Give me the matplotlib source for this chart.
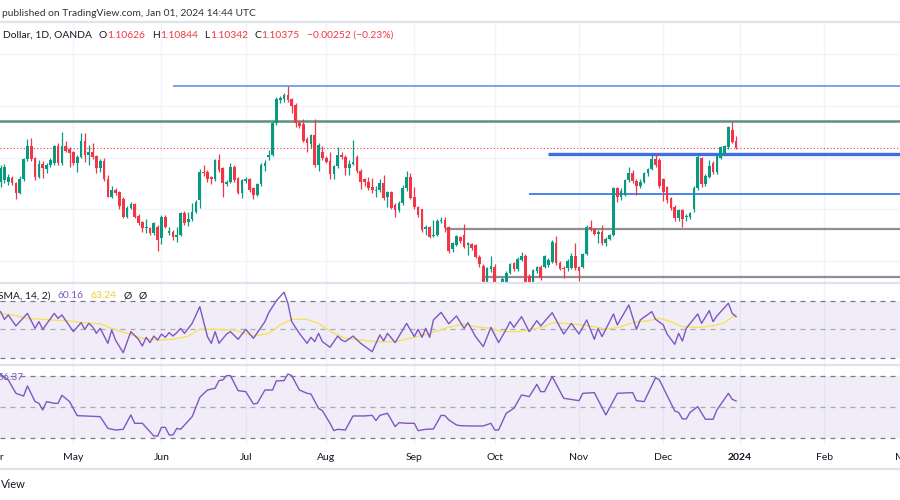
import matplotlib
matplotlib.use("Agg")
import numpy as np
import pandas as pd
import matplotlib.pyplot as plt
from matplotlib.lines import Line2D
from matplotlib.transforms import blended_transform_factory

# daily EUR/USD candles, 2023-04-04 .. 2023-12-29
opens = [
    1.0906, 1.0913, 1.0906, 1.0922, 1.0900, 1.0861, 1.0915, 1.0993, 1.1046, 1.0997,
    1.0926, 1.0975, 1.0954, 1.0971, 1.0977, 1.1046, 1.0977, 1.1046, 1.1033, 1.1020,
    1.0977, 1.1003, 1.1064, 1.1010, 1.1020, 1.1004, 1.0958, 1.0986, 1.0917, 1.0848,
    1.0874, 1.0867, 1.0838, 1.0770, 1.0806, 1.0819, 1.0773, 1.0750, 1.0726, 1.0725,
    1.0709, 1.0731, 1.0686, 1.0768, 1.0706, 1.0712, 1.0693, 1.0699, 1.0786, 1.0751,
    1.0760, 1.0790, 1.0835, 1.0945, 1.0945, 1.0925, 1.0915, 1.0990, 1.0958, 1.0898,
    1.0906, 1.0964, 1.0919, 1.0864, 1.0909, 1.0917, 1.0880, 1.0855, 1.0897, 1.0967,
    1.1001, 1.1010, 1.1133, 1.1223, 1.1226, 1.1243, 1.1226, 1.1204, 1.1133, 1.1129,
    1.1070, 1.1052, 1.1087, 1.0971, 1.1023, 1.1000, 1.0988, 1.0935, 1.0967, 1.1010,
    1.1003, 1.0958, 1.0974, 1.1003, 1.0949, 1.0915, 1.0906, 1.0884, 1.0870, 1.0874,
    1.0900, 1.0845, 1.0867, 1.0816, 1.0796, 1.0822, 1.0880, 1.0926, 1.0845, 1.0809,
    1.0799, 1.0721, 1.0731, 1.0695, 1.0699, 1.0753, 1.0757, 1.0731, 1.0644, 1.0660,
    1.0693, 1.0699, 1.0660, 1.0663, 1.0660, 1.0615, 1.0579, 1.0505, 1.0566, 1.0576,
    1.0475, 1.0470, 1.0505, 1.0553, 1.0589, 1.0566, 1.0602, 1.0619, 1.0541, 1.0505,
    1.0558, 1.0576, 1.0576, 1.0582, 1.0595, 1.0670, 1.0592, 1.0573, 1.0573, 1.0573,
    1.0619, 1.0576, 1.0576, 1.0625, 1.0731, 1.0721, 1.0703, 1.0710, 1.0667, 1.0685,
    1.0700, 1.0880, 1.0848, 1.0855, 1.0912, 1.0940, 1.0910, 1.0888, 1.0905, 1.0940,
    1.0954, 1.0996, 1.0990, 1.0915, 1.0884, 1.0841, 1.0809, 1.0764, 1.0796, 1.0768,
    1.0770, 1.0799, 1.0880, 1.0997, 1.0897, 1.0926, 1.0980, 1.0944, 1.1000, 1.1014,
    1.1042, 1.1107, 1.10626,
]
highs = [
    1.0971, 1.0975, 1.0935, 1.0930, 1.0906, 1.0928, 1.0999, 1.1071, 1.1077, 1.1003,
    1.0990, 1.0985, 1.0980, 1.1000, 1.1050, 1.1055, 1.1098, 1.1064, 1.1040, 1.1025,
    1.1008, 1.1094, 1.1094, 1.1049, 1.1055, 1.1008, 1.0993, 1.0997, 1.0932, 1.0889,
    1.0880, 1.0870, 1.0847, 1.0812, 1.0828, 1.0825, 1.0780, 1.0755, 1.0760, 1.0730,
    1.0750, 1.0740, 1.0775, 1.0775, 1.0730, 1.0720, 1.0731, 1.0790, 1.0792, 1.0790,
    1.0825, 1.0835, 1.0954, 1.0971, 1.0950, 1.0930, 1.0995, 1.1014, 1.0965, 1.0912,
    1.0980, 1.0970, 1.0925, 1.0918, 1.0925, 1.0922, 1.0885, 1.0903, 1.0977, 1.0990,
    1.1029, 1.1140, 1.1235, 1.1239, 1.1249, 1.1276, 1.1230, 1.1210, 1.1140, 1.1148,
    1.1080, 1.1092, 1.1148, 1.1055, 1.1045, 1.1005, 1.1023, 1.0972, 1.1042, 1.1023,
    1.1008, 1.0990, 1.1068, 1.1010, 1.0955, 1.0920, 1.0925, 1.0919, 1.0889, 1.0915,
    1.0932, 1.0872, 1.0872, 1.0822, 1.0830, 1.0893, 1.0948, 1.0939, 1.0887, 1.0812,
    1.0802, 1.0740, 1.0735, 1.0757, 1.0760, 1.0770, 1.0770, 1.0736, 1.0672, 1.0700,
    1.0697, 1.0741, 1.0672, 1.0668, 1.0665, 1.0620, 1.0585, 1.0575, 1.0618, 1.0585,
    1.0482, 1.0535, 1.0560, 1.0592, 1.0595, 1.0612, 1.0635, 1.0625, 1.0548, 1.0568,
    1.0580, 1.0582, 1.0623, 1.0610, 1.0680, 1.0696, 1.0598, 1.0580, 1.0605, 1.0630,
    1.0669, 1.0580, 1.0630, 1.0738, 1.0757, 1.0725, 1.0720, 1.0740, 1.0690, 1.0705,
    1.0887, 1.0887, 1.0880, 1.0917, 1.0965, 1.0950, 1.0915, 1.0915, 1.0945, 1.0960,
    1.1010, 1.1017, 1.1000, 1.0920, 1.0890, 1.0845, 1.0815, 1.0800, 1.0800, 1.0780,
    1.0790, 1.0890, 1.1009, 1.1003, 1.0935, 1.0990, 1.0985, 1.1015, 1.1045, 1.1050,
    1.1123, 1.1139, 1.10844,
]
lows = [
    1.0887, 1.0900, 1.0895, 1.0893, 1.0838, 1.0858, 1.0908, 1.0985, 1.0985, 1.0913,
    1.0920, 1.0919, 1.0939, 1.0965, 1.0970, 1.0970, 1.0970, 1.1020, 1.0964, 1.0970,
    1.0945, 1.0998, 1.0984, 1.0971, 1.0995, 1.0941, 1.0945, 1.0910, 1.0845, 1.0842,
    1.0855, 1.0800, 1.0764, 1.0765, 1.0800, 1.0765, 1.0740, 1.0710, 1.0706, 1.0700,
    1.0700, 1.0638, 1.0663, 1.0725, 1.0700, 1.0680, 1.0671, 1.0695, 1.0740, 1.0734,
    1.0755, 1.0785, 1.0805, 1.0930, 1.0905, 1.0897, 1.0910, 1.0945, 1.0845, 1.0890,
    1.0900, 1.0905, 1.0858, 1.0842, 1.0900, 1.0868, 1.0838, 1.0850, 1.0890, 1.0949,
    1.0990, 1.1005, 1.1125, 1.1210, 1.1215, 1.1215, 1.1174, 1.1120, 1.1115, 1.1060,
    1.1022, 1.1036, 1.0965, 1.0949, 1.0990, 1.0978, 1.0918, 1.0915, 1.0960, 1.0995,
    1.0932, 1.0932, 1.0970, 1.0940, 1.0876, 1.0890, 1.0874, 1.0861, 1.0848, 1.0868,
    1.0835, 1.0809, 1.0800, 1.0770, 1.0790, 1.0815, 1.0870, 1.0838, 1.0800, 1.0770,
    1.0712, 1.0700, 1.0688, 1.0690, 1.0695, 1.0745, 1.0712, 1.0630, 1.0635, 1.0655,
    1.0670, 1.0648, 1.0622, 1.0640, 1.0609, 1.0576, 1.0488, 1.0495, 1.0555, 1.0465,
    1.0448, 1.0460, 1.0495, 1.0548, 1.0560, 1.0560, 1.0597, 1.0495, 1.0495, 1.0495,
    1.0550, 1.0525, 1.0570, 1.0575, 1.0590, 1.0583, 1.0562, 1.0531, 1.0560, 1.0568,
    1.0565, 1.0519, 1.0570, 1.0620, 1.0715, 1.0698, 1.0667, 1.0660, 1.0655, 1.0680,
    1.0696, 1.0828, 1.0835, 1.0850, 1.0905, 1.0900, 1.0855, 1.0880, 1.0900, 1.0930,
    1.0950, 1.0965, 1.0880, 1.0830, 1.0825, 1.0795, 1.0755, 1.0755, 1.0731, 1.0755,
    1.0760, 1.0790, 1.0875, 1.0885, 1.0888, 1.0920, 1.0935, 1.0935, 1.0995, 1.1008,
    1.1035, 1.1055, 1.10342,
]
closes = [
    1.0958, 1.0962, 1.0926, 1.0900, 1.0861, 1.0915, 1.0993, 1.1046, 1.0993, 1.0926,
    1.0975, 1.0958, 1.0971, 1.0990, 1.1046, 1.0977, 1.1046, 1.1027, 1.1016, 1.0977,
    1.1003, 1.1064, 1.1010, 1.1020, 1.1003, 1.0958, 1.0986, 1.0917, 1.0848, 1.0874,
    1.0861, 1.0812, 1.0768, 1.0806, 1.0819, 1.0770, 1.0747, 1.0725, 1.0729, 1.0709,
    1.0745, 1.0680, 1.0770, 1.0731, 1.0715, 1.0693, 1.0699, 1.0786, 1.0747, 1.0760,
    1.0790, 1.0829, 1.0945, 1.0941, 1.0915, 1.0915, 1.0990, 1.0951, 1.0900, 1.0906,
    1.0964, 1.0913, 1.0864, 1.0913, 1.0917, 1.0874, 1.0855, 1.0897, 1.0971, 1.0980,
    1.1010, 1.1133, 1.1227, 1.1230, 1.1243, 1.1223, 1.1200, 1.1133, 1.1124, 1.1064,
    1.1055, 1.1087, 1.0971, 1.1049, 1.0997, 1.0984, 1.0936, 1.0967, 1.1010, 1.1001,
    1.0958, 1.0975, 1.0984, 1.0949, 1.0906, 1.0906, 1.0880, 1.0874, 1.0874, 1.0900,
    1.0842, 1.0867, 1.0806, 1.0796, 1.0825, 1.0880, 1.0926, 1.0842, 1.0809, 1.0777,
    1.0719, 1.0731, 1.0693, 1.0699, 1.0755, 1.0757, 1.0725, 1.0638, 1.0667, 1.0695,
    1.0677, 1.0654, 1.0667, 1.0647, 1.0615, 1.0586, 1.0500, 1.0570, 1.0579, 1.0475,
    1.0469, 1.0530, 1.0553, 1.0587, 1.0566, 1.0606, 1.0619, 1.0512, 1.0505, 1.0563,
    1.0576, 1.0531, 1.0617, 1.0602, 1.0673, 1.0589, 1.0568, 1.0569, 1.0599, 1.0619,
    1.0573, 1.0560, 1.0625, 1.0731, 1.0721, 1.0703, 1.0712, 1.0667, 1.0685, 1.0700,
    1.0880, 1.0848, 1.0870, 1.0912, 1.0940, 1.0910, 1.0888, 1.0905, 1.0940, 1.0954,
    1.0996, 1.0970, 1.0888, 1.0867, 1.0835, 1.0803, 1.0764, 1.0796, 1.0760, 1.0773,
    1.0783, 1.0880, 1.1003, 1.0897, 1.0928, 1.0967, 1.0944, 1.1010, 1.1042, 1.1045,
    1.1117, 1.1062, 1.10375,
]

# horizontal levels drawn on the price pane
level_price = [1.1278, 1.1140, 1.1012, 1.0858, 1.0722, 1.0536]
level_from = [45, -1, 143, 138, 116, 126]
level_color = ["#6d9bf1", "#5f8f7f", "#3b6fe3", "#4b82ee", "#8e8e93", "#8e8e93"]
level_width = [1.3, 1.8, 2.4, 1.4, 1.6, 1.6]

# RSI(14) and its SMA, turning points (bar number, value)
rsi_bar = [0, 1, 2, 4, 7, 9, 10, 11, 14, 15, 16, 19, 21, 22, 23, 24, 25, 26, 28, 29,
           30, 32, 34, 36, 37, 38, 39, 40, 41, 42, 43, 44, 45, 46, 47, 48, 50, 52, 54, 55,
           56, 57, 59, 60, 62, 64, 66, 69, 70, 72, 74, 75, 76, 78, 80, 81, 82, 83, 84, 86,
           88, 89, 90, 92, 94, 97, 99, 100, 101, 103, 106, 108, 109, 110, 111, 112, 113, 115,
           117, 119, 121, 122, 124, 126, 128, 130, 132, 133, 134, 136, 138, 140, 141, 144,
           147, 149, 151, 153, 155, 156, 157, 160, 161, 164, 166, 167, 170, 171, 173, 174,
           176, 177, 178, 179, 182, 183, 185, 186, 187, 190, 191, 192]
rsi_val = [62.5, 57.1, 60.2, 52.5, 61.3, 50.8, 55.5, 50.1, 61.3, 57.8, 60.2, 48.5, 54.8,
           50.1, 54.3, 52.0, 47.3, 50.8, 40.3, 49.6, 42.6, 33.7, 48.5, 43.1, 38.4, 44.5,
           40.8, 45.4, 42.6, 46.8, 44.5, 47.8, 45.4, 47.8, 50.8, 47.3, 54.3, 66.0, 45.0,
           40.3, 48.5, 40.3, 46.8, 48.5, 43.1, 50.1, 43.8, 55.5, 61.8, 70.2, 76.1, 68.4,
           55.5, 47.3, 40.3, 44.5, 41.5, 47.3, 41.5, 37.5, 45.4, 42.6, 41.5, 45.4, 40.3,
           34.4, 46.2, 42.0, 47.3, 40.8, 54.3, 45.0, 50.1, 44.5, 50.8, 44.5, 56.7, 62.0,
           54.0, 59.5, 50.8, 54.8, 45.0, 38.0, 51.5, 40.8, 50.1, 55.5, 51.5, 59.0, 48.5,
           56.2, 52.5, 61.8, 46.8, 54.3, 46.8, 56.7, 43.1, 50.8, 45.0, 60.9, 53.2, 67.2,
           50.1, 56.7, 62.5, 57.1, 53.2, 46.8, 39.6, 47.3, 41.9, 50.8, 60.9, 54.3, 63.2,
           55.5, 59.5, 68.4, 61.3, 59.0]
sma_bar = [0, 3, 7, 13, 17, 22, 26, 29, 33, 37, 41, 45, 49, 52, 56, 61, 66, 70, 73, 76,
           80, 83, 87, 90, 94, 98, 103, 107, 112, 117, 121, 124, 128, 131, 135, 138, 142,
           144, 149, 152, 156, 158, 162, 165, 169, 172, 175, 178, 182, 186, 189, 192]
sma_val = [61.3, 60.2, 57.8, 56.7, 56.2, 54.8, 53.9, 50.8, 47.3, 43.8, 42.6, 43.1, 45.4,
           50.1, 50.1, 49.6, 45.4, 47.3, 53.2, 57.1, 57.1, 54.3, 47.3, 43.8, 42.6, 41.5,
           41.5, 43.8, 47.3, 51.5, 53.9, 52.0, 50.8, 48.5, 48.5, 49.6, 52.0, 54.8, 53.9,
           53.2, 51.5, 50.1, 52.0, 54.8, 56.2, 57.8, 55.5, 52.0, 51.5, 52.5, 54.8, 60.5]

# second oscillator pane, turning points (bar number, value)
osc_bar = [0, 2, 4, 6, 7, 9, 10, 11, 12, 14, 15, 16, 18, 20, 22, 26, 28, 30, 32, 34,
           35, 37, 39, 40, 41, 42, 43, 44, 45, 46, 47, 50, 52, 54, 56, 57, 58, 59, 60, 62,
           64, 66, 67, 69, 71, 72, 74, 75, 76, 78, 80, 81, 83, 84, 86, 87, 88, 90, 92, 95,
           97, 98, 99, 101, 103, 104, 106, 108, 109, 111, 113, 115, 116, 117, 119, 120, 123,
           126, 128, 129, 130, 132, 134, 136, 138, 140, 141, 142, 144, 147, 151, 152, 155,
           158, 161, 165, 166, 168, 171, 172, 176, 177, 178, 179, 180, 182, 184, 186, 187,
           190, 191, 192]
osc_val = [82.1, 76.6, 63.7, 61.1, 70.8, 55.7, 54.0, 47.6, 55.7, 54.0, 54.0, 61.8, 55.7,
           42.1, 41.8, 41.1, 29.8, 28.2, 28.9, 42.8, 34.7, 34.7, 26.6, 22.4, 22.4, 30.8,
           30.8, 23.4, 23.4, 29.8, 28.9, 41.1, 59.8, 66.9, 68.6, 76.0, 76.6, 80.8, 80.8,
           66.3, 65.3, 53.4, 54.0, 66.9, 66.9, 75.7, 76.0, 82.4, 80.8, 66.9, 63.7, 63.1,
           49.2, 46.9, 34.7, 27.6, 28.9, 28.2, 41.8, 41.8, 42.4, 37.3, 42.4, 44.4, 31.5,
           35.3, 34.7, 34.7, 27.6, 28.9, 29.2, 42.4, 42.1, 38.0, 33.1, 32.4, 32.1, 32.1,
           34.7, 28.2, 28.2, 44.4, 49.2, 62.1, 60.5, 72.4, 65.3, 65.3, 79.9, 58.9, 56.6,
           63.7, 64.4, 42.8, 63.7, 64.4, 56.6, 55.7, 78.9, 76.6, 46.6, 45.3, 38.9, 38.9,
           45.3, 50.8, 38.6, 38.6, 47.6, 63.7, 57.9, 56.37]

GREEN = "#089981"
RED = "#f23645"
PURPLE = "#7e57c2"
GRID = "#f0f3fa"
TXT = "#131722"
plt.rcParams["font.family"] = ["Lato", "DejaVu Sans"]

# trading-day calendar: bar 0 is 2023-04-04
days = pd.bdate_range("2023-04-03", "2024-03-29")
days = days[~days.isin(pd.to_datetime(["2023-12-25", "2024-01-01"]))]
pos = np.arange(len(days)) - days.get_loc(pd.Timestamp("2023-04-04"))
month_pos = pd.Series(pos, index=days).groupby(days.to_period("M")).first()

fig = plt.figure(figsize=(9, 5), dpi=100, facecolor="white")
ax = fig.add_axes([0, 0.434, 1, 0.522])
ax_rsi = fig.add_axes([0, 0.270, 1, 0.164])
ax_osc = fig.add_axes([0, 0.110, 1, 0.160])

for a in (ax, ax_rsi, ax_osc):
    a.set_xlim(-0.16, 234.8)
    a.set_xticks([])
    a.set_yticks([])
    for s in a.spines.values():
        s.set_visible(False)
    for p in month_pos.values:
        a.axvline(p, color=GRID, lw=1, zorder=0)

# price pane
ax.set_ylim(1.0513, 1.1526)
for g in [1.06, 1.08, 1.10, 1.12, 1.14]:
    ax.axhline(g, color=GRID, lw=1, zorder=0)

n = len(closes)
x = np.arange(n)
o = np.array(opens)
c = np.array(closes)
cols = [GREEN if cc >= oo else RED for oo, cc in zip(o, c)]
ax.vlines(x, lows, highs, colors=cols, lw=0.9, zorder=3)
body = np.maximum(np.abs(c - o), 0.00008)
ax.bar(x, body, bottom=np.minimum(o, c), width=0.7, color=cols, lw=0, zorder=4)

for p, start, col, w in zip(level_price, level_from, level_color, level_width):
    ax.hlines(p, start, 240, colors=col, lw=w, zorder=2)
ax.axhline(closes[-1], color=RED, lw=0.8, ls=(0, (1, 2)), zorder=2)

# RSI pane
ax_rsi.set_ylim(25.1, 82.6)
ax_rsi.axhspan(30, 70, color=PURPLE, alpha=0.1, lw=0, zorder=1)
for lvl, al in [(70, 1), (50, 0.6), (30, 1)]:
    ax_rsi.axhline(lvl, color="#787b86", lw=0.9, ls=(0, (4, 4)), alpha=al, zorder=2)
ax_rsi.plot(sma_bar, sma_val, color="#f7e15c", lw=1, zorder=3)
ax_rsi.plot(rsi_bar, rsi_val, color=PURPLE, lw=1, zorder=4)

# second oscillator pane
ax_osc.set_ylim(13.7, 91.1)
ax_osc.axhspan(20, 80, color=PURPLE, alpha=0.1, lw=0, zorder=1)
for lvl, al in [(80, 1), (50, 0.6), (20, 1)]:
    ax_osc.axhline(lvl, color="#787b86", lw=0.9, ls=(0, (4, 4)), alpha=al, zorder=2)
ax_osc.plot(osc_bar, osc_val, color=PURPLE, lw=1, zorder=4)

# time axis labels
tr = blended_transform_factory(ax_osc.transData, fig.transFigure)
for per, p in month_pos.items():
    lab = str(per.year) if per.month == 1 else per.strftime("%b")
    ax_osc.text(p, 0.086, lab, transform=tr, ha="center", va="center", fontsize=7.5,
                color=TXT, fontweight="bold" if per.month == 1 else "normal", clip_on=False)

# pane separators
for yy in [1 - 22 / 500, 0.434, 0.270, 1 - 469 / 500]:
    fig.add_artist(Line2D([0, 1], [yy, yy], color="#e0e3eb", lw=1.6, transform=fig.transFigure))

# header and legends
fig.text(2 / 900, 1 - 13 / 500, "published on TradingView.com, Jan 01, 2024 14:44 UTC",
         fontsize=7.4, color="#333333", va="center")
t = fig.text(3 / 900, 1 - 35 / 500, "Dollar, 1D, OANDA", fontsize=7.4, color=TXT, va="center")
parts = [("O", TXT, 5), ("1.10626", RED, 0), ("H", TXT, 5), ("1.10844", RED, 0),
         ("L", TXT, 5), ("1.10342", RED, 0), ("C", TXT, 5), ("1.10375", RED, 0),
         ("\u22120.00252 (\u22120.23%)", RED, 5)]
for s, col, gap in parts:
    t = ax.annotate(s, xy=(1, 0), xycoords=t, xytext=(gap, 0), textcoords="offset points",
                    fontsize=7.4, color=col, va="bottom")

t = ax_rsi.text(-2 / 900, 1 - 13 / 82, "SMA, 14, 2)", transform=ax_rsi.transAxes,
                fontsize=7.4, color=TXT, va="center", zorder=6)
for s, col in [("60.16", PURPLE), ("63.24", "#e8cf2a"), ("\u00d8", TXT), ("\u00d8", TXT)]:
    t = ax_rsi.annotate(s, xy=(1, 0), xycoords=t, xytext=(5, 0), textcoords="offset points",
                        fontsize=7.4, color=col, va="bottom", zorder=6)
ax_osc.text(-3 / 900, 1 - 13 / 80, "56.37", transform=ax_osc.transAxes, fontsize=7.4,
            color=PURPLE, va="center", zorder=6)
fig.text(1 / 900, 1 - 484 / 500, "View", fontsize=8, color=TXT, va="center")

fig.savefig("out.png", dpi=100, facecolor="white")
